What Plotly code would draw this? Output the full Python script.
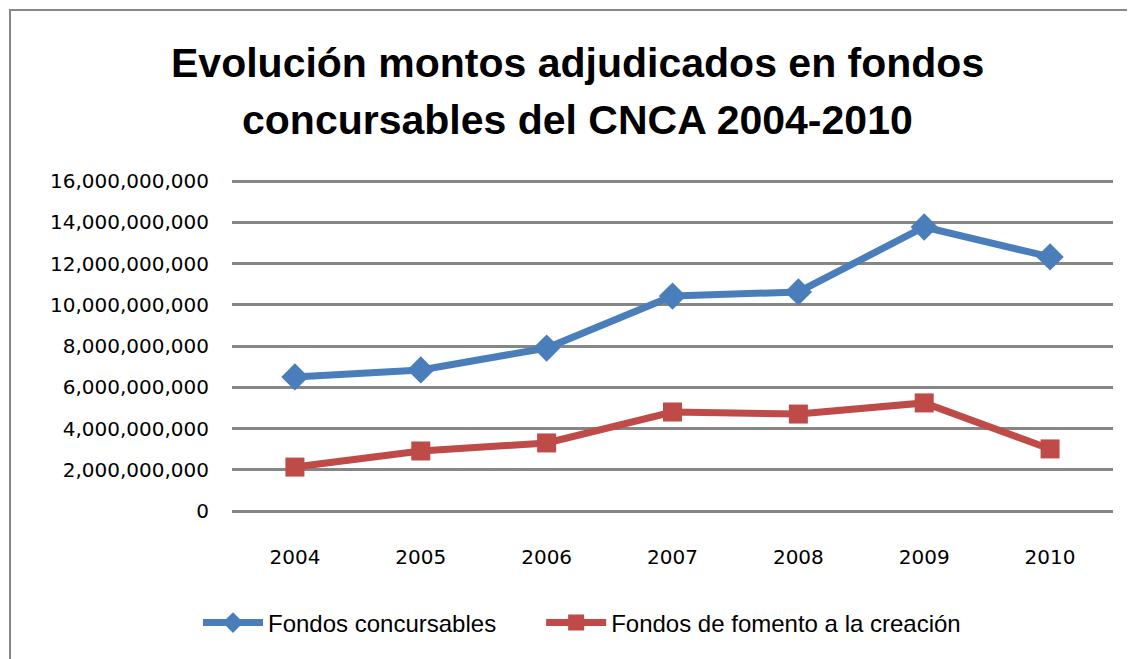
import plotly.graph_objects as go

years = ["2004", "2005", "2006", "2007", "2008", "2009", "2010"]
fondos_concursables = [6.50e9, 6.84e9, 7.90e9, 10.42e9, 10.62e9, 13.77e9, 12.32e9]
fondos_fomento = [2.13e9, 2.91e9, 3.30e9, 4.80e9, 4.70e9, 5.24e9, 3.01e9]
y_ticks = [0, 2e9, 4e9, 6e9, 8e9, 10e9, 12e9, 14e9, 16e9]
y_tick_labels = ["0", "2,000,000,000", "4,000,000,000", "6,000,000,000", "8,000,000,000",
                 "10,000,000,000", "12,000,000,000", "14,000,000,000", "16,000,000,000"]
title_lines = ["Evolución montos adjudicados en fondos", "concursables del CNCA 2004-2010"]

# page body has an 8px margin: positions below are in figure pixels
W, H = 1135, 659
L, T = 224, 171
pw, ph = 881, 332
R, B = W - L - pw, H - T - ph
y_top = 16e9 * ph / 330

fig = go.Figure()
fig.add_trace(go.Scatter(
    x=years, y=fondos_concursables, name="Fondos concursables" + "\u00a0" * 6,
    mode="lines+markers",
    line=dict(color="#4A7EBB", width=7),
    marker=dict(symbol="diamond", size=21, color="#4A7EBB"),
))
fig.add_trace(go.Scatter(
    x=years, y=fondos_fomento, name="Fondos de fomento a la creación",
    mode="lines+markers",
    line=dict(color="#BE4B48", width=7),
    marker=dict(symbol="square", size=19, color="#BE4B48"),
))

tick_font = dict(family="DejaVu Sans", size=20, color="#000000")
title_font = dict(family="Liberation Sans", size=41, color="#000000", weight="bold")

annotations = []
for i, (line_text, yc) in enumerate(zip(title_lines, [55, 112])):
    annotations.append(dict(
        text=line_text, xref="paper", yref="paper",
        x=(569 - L) / pw, y=((T + ph) - yc) / ph,
        xanchor="center", yanchor="middle", showarrow=False, font=title_font,
    ))

fig.update_layout(
    width=W, height=H,
    margin=dict(l=L, r=R, t=T, b=B),
    paper_bgcolor="white", plot_bgcolor="white",
    annotations=annotations,
    xaxis=dict(
        type="category", range=[-0.5, 6.5],
        showgrid=False, zeroline=False, showline=False,
        tickfont=tick_font, ticks="", ticklabelstandoff=32,
    ),
    yaxis=dict(
        range=[0, y_top],
        tickvals=y_ticks, ticktext=y_tick_labels,
        showgrid=True, gridcolor="#868686", gridwidth=3,
        zeroline=True, zerolinecolor="#868686", zerolinewidth=3,
        showline=False, ticks="",
        tickfont=tick_font, ticklabelstandoff=22,
    ),
    legend=dict(
        orientation="h", x=(190 - L) / pw, xanchor="left",
        y=-(615 - (T + ph)) / ph, yanchor="middle",
        font=dict(family="Liberation Sans", size=24, color="#000000"),
        itemwidth=60, bgcolor="rgba(0,0,0,0)",
    ),
    showlegend=True,
    shapes=[dict(
        type="rect", xref="paper", yref="paper",
        x0=(2 - L) / pw, x1=(1200 - L) / pw,
        y0=-(700 - (T + ph)) / ph, y1=((T + ph) - 2) / ph,
        line=dict(color="#888888", width=2), fillcolor="rgba(0,0,0,0)", layer="below",
    )],
)

fig.write_html("out.html")
